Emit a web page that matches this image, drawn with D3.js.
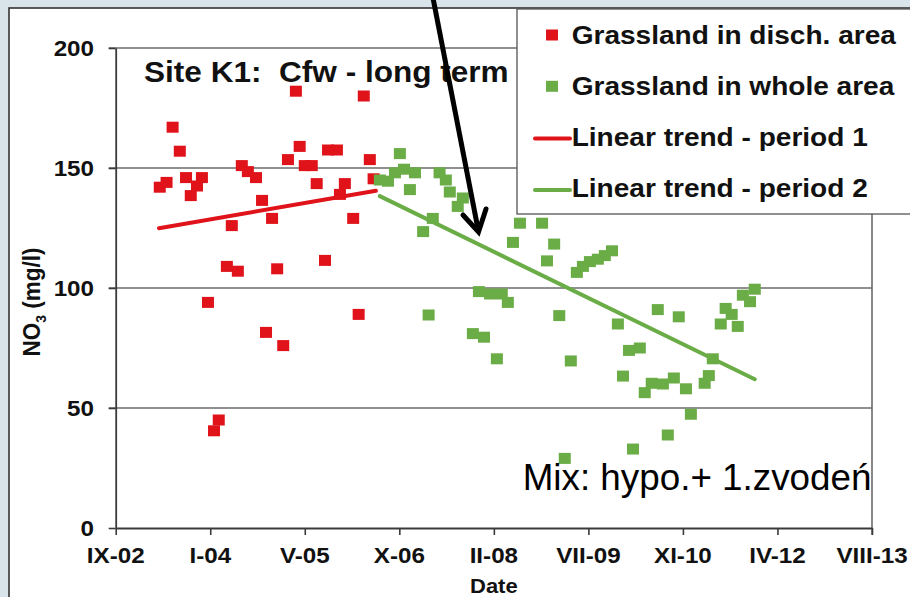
<!DOCTYPE html>
<html>
<head>
<meta charset="utf-8">
<script src="https://cdn.jsdelivr.net/npm/d3@7.9.0/dist/d3.min.js"></script>
<style>
  body { margin: 0; background: #fff; }
  text { font-family: "Liberation Sans", Arial, sans-serif; }
</style>
</head>
<body>
<div id="vis"></div>
<script>
// Data
const dischDates = [
  "2003-04-22", "2003-05-28", "2003-06-29", "2003-08-06", "2003-09-08", "2003-10-03",
  "2003-11-05", "2003-12-01", "2004-01-02", "2004-02-03", "2004-02-28", "2004-04-11",
  "2004-05-07", "2004-06-08", "2004-06-29", "2004-07-31", "2004-09-12", "2004-10-14",
  "2004-11-04", "2004-12-06", "2005-01-02", "2005-02-03", "2005-02-28", "2005-04-11",
  "2005-05-01", "2005-05-28", "2005-07-04", "2005-07-30", "2005-09-12", "2005-09-28",
  "2005-11-14", "2005-11-30", "2005-12-26", "2006-02-08", "2006-03-09", "2006-04-05",
  "2006-05-07", "2006-05-27"
];
const dischNO3 = [
  142, 144, 167, 157, 146, 138.5,
  142.5, 146, 94, 40.5, 45, 109,
  126, 107, 151, 148.5, 146, 136.5,
  81.5, 129, 108, 76, 153.5, 182,
  159, 151, 151, 143.5, 111.5, 157.5,
  157.5, 139, 143.5, 129, 89, 180,
  153.5, 145.5
];

const wholeDates = [
  "2006-06-29", "2006-08-11", "2006-09-17", "2006-10-13", "2006-11-04", "2006-12-05",
  "2007-01-01", "2007-02-13", "2007-03-14", "2007-04-05", "2007-05-11", "2007-06-13",
  "2007-07-04", "2007-08-15", "2007-09-11", "2007-11-03", "2007-12-05", "2008-01-01",
  "2008-02-02", "2008-03-09", "2008-04-04", "2008-05-06", "2008-06-02", "2008-07-09",
  "2008-11-03", "2008-11-29", "2009-01-06", "2009-02-02", "2009-03-03", "2009-04-04",
  "2009-05-06", "2009-06-07", "2009-07-14", "2009-08-25", "2009-10-01", "2009-11-08",
  "2009-12-09", "2010-01-05", "2010-02-06", "2010-02-27", "2010-04-04", "2010-04-30",
  "2010-06-06", "2010-07-08", "2010-08-04", "2010-08-30", "2010-10-01", "2010-10-27",
  "2010-12-04", "2010-12-30", "2011-03-13", "2011-04-04", "2011-04-25", "2011-06-06",
  "2011-07-02", "2011-08-03", "2011-09-04", "2011-10-01", "2011-11-08", "2011-12-03"
];
const wholeNO3 = [
  145, 144.5, 148, 156, 149.5, 141,
  148, 123.5, 88.75, 129, 148, 145,
  140, 134, 137.5, 81, 98.5, 79.5,
  97.5, 70.5, 97.5, 94, 119, 127,
  127, 111.3, 118.3, 88.5, 29, 69.6,
  106.5, 109, 111, 112, 113.5, 115.5,
  85, 63.3, 74, 32.9, 75, 56.4,
  60.3, 91, 60, 38.75, 62.5, 88,
  58, 47.4, 60.3, 63.5, 70.5, 85,
  91.5, 89, 84, 97, 94.3, 99.5
];

const trend1Dates = ["2003-04-18", "2006-06-08"];
const trend1NO3 = [124.9, 140.5];
const trend2Dates = ["2006-06-29", "2011-12-03"];
const trend2NO3 = [138.3, 62];

const yTicks = [0, 50, 100, 150, 200];
const xTickDays = [0, 500, 1000, 1500, 2000, 2500, 3000, 3500, 4000];
const romanMonths = ["I", "II", "III", "IV", "V", "VI", "VII", "VIII", "IX", "X", "XI", "XII"];

const legendLabels = [
  "Grassland in disch. area",
  "Grassland in whole area",
  "Linear trend - period 1",
  "Linear trend - period 2"
];

const red = "#e0121a";
const green = "#6aac46";
const ink = "#111";

const width = 910;
const height = 597;
const plot = { left: 115.7, right: 872, top: 48, bottom: 528 };

const parse = d3.utcParse("%Y-%m-%d");
const startDate = new Date(Date.UTC(2002, 8, 1));

const xScale = d3
  .scaleUtc()
  .domain([startDate, d3.utcDay.offset(startDate, 4000)])
  .range([plot.left, plot.right]);
const yScale = d3
  .scaleLinear()
  .domain([0, 200])
  .range([plot.bottom, plot.top]);

const svg = d3
  .select("#vis")
  .append("svg")
  .attr("width", width)
  .attr("height", height);

// text is horizontally stretched in the original
function stretchText(parent, x, y, str, size, anchor, bold = true) {
  return parent
    .append("text")
    .attr("transform", `translate(${x},${y}) scale(1.1,1)`)
    .attr("text-anchor", anchor)
    .attr("font-size", size)
    .attr("font-weight", bold ? "bold" : "normal")
    .attr("fill", ink)
    .style("white-space", "pre")
    .text(str);
}

// slide background + chart frame
svg.append("rect").attr("width", width).attr("height", height).attr("fill", "#d9e3ea");
svg
  .append("rect")
  .attr("x", 9)
  .attr("y", 8)
  .attr("width", width)
  .attr("height", height)
  .attr("fill", "#fff")
  .attr("stroke", "#333")
  .attr("stroke-width", 1.6);

// gridlines
svg
  .append("g")
  .selectAll("line")
  .data(yTicks.slice(1))
  .enter()
  .append("line")
  .attr("x1", plot.left - 7)
  .attr("x2", plot.right)
  .attr("y1", (d) => yScale(d))
  .attr("y2", (d) => yScale(d))
  .attr("stroke", "#6b6b6b")
  .attr("stroke-width", 1.6);

// right border of plot
svg
  .append("line")
  .attr("x1", plot.right)
  .attr("x2", plot.right)
  .attr("y1", plot.top)
  .attr("y2", plot.bottom + 7)
  .attr("stroke", "#6b6b6b")
  .attr("stroke-width", 1.6);

// axes
const xAxis = svg
  .append("g")
  .attr("transform", `translate(0,${plot.bottom})`)
  .call(
    d3
      .axisBottom(xScale)
      .tickValues(xTickDays.map((d) => d3.utcDay.offset(startDate, d)))
      .tickSize(7)
      .tickSizeOuter(0)
      .tickFormat("")
  );
const yAxis = svg
  .append("g")
  .attr("transform", `translate(${plot.left},0)`)
  .call(d3.axisLeft(yScale).tickValues(yTicks).tickSize(7).tickSizeOuter(0).tickFormat(""));

[xAxis, yAxis].forEach((a) => {
  a.select(".domain").attr("stroke", "#3a3a3a").attr("stroke-width", 1.8);
  a.selectAll(".tick line").attr("stroke", "#3a3a3a").attr("stroke-width", 1.6);
});

// tick labels
yTicks.forEach((t) => stretchText(svg, 94, yScale(t) + 7.8, String(t), 22, "end"));
xTickDays.forEach((d) => {
  const dt = d3.utcDay.offset(startDate, d);
  const label = `${romanMonths[dt.getUTCMonth()]}-${String(dt.getUTCFullYear()).slice(2)}`;
  stretchText(svg, xScale(dt), 562.5, label, 22, "middle");
});

// axis titles
stretchText(svg, (plot.left + plot.right) / 2, 593, "Date", 20, "middle");
const yTitle = svg
  .append("text")
  .attr("transform", "translate(40,302) rotate(-90) scale(1,1.1)")
  .attr("text-anchor", "middle")
  .attr("font-size", 22.5)
  .attr("font-weight", "bold")
  .attr("fill", ink);
yTitle.append("tspan").text("NO");
yTitle.append("tspan").attr("font-size", 14).attr("dy", 5).text("3");
yTitle.append("tspan").attr("dy", -5).text(" (mg/l)");

// points
const sq = { w: 12, h: 11 };
const dischData = dischDates.map((d, i) => ({ date: parse(d), v: dischNO3[i] }));
const wholeData = wholeDates.map((d, i) => ({ date: parse(d), v: wholeNO3[i] }));

svg
  .append("g")
  .selectAll("rect")
  .data(dischData)
  .enter()
  .append("rect")
  .attr("x", (d) => xScale(d.date) - sq.w / 2)
  .attr("y", (d) => yScale(d.v) - sq.h / 2)
  .attr("width", sq.w)
  .attr("height", sq.h)
  .attr("fill", red);

svg
  .append("g")
  .selectAll("rect")
  .data(wholeData)
  .enter()
  .append("rect")
  .attr("x", (d) => xScale(d.date) - sq.w / 2)
  .attr("y", (d) => yScale(d.v) - sq.h / 2)
  .attr("width", sq.w)
  .attr("height", sq.h)
  .attr("fill", green);

// trend lines
const line = d3
  .line()
  .x((d) => xScale(d.date))
  .y((d) => yScale(d.v));

svg
  .append("path")
  .attr("d", line(trend1Dates.map((d, i) => ({ date: parse(d), v: trend1NO3[i] }))))
  .attr("fill", "none")
  .attr("stroke", red)
  .attr("stroke-width", 4)
  .attr("stroke-linecap", "round");
svg
  .append("path")
  .attr("d", line(trend2Dates.map((d, i) => ({ date: parse(d), v: trend2NO3[i] }))))
  .attr("fill", "none")
  .attr("stroke", green)
  .attr("stroke-width", 4)
  .attr("stroke-linecap", "round");

// title
stretchText(svg, 144, 81.7, "Site K1:  Cfw - long term", 28.7, "start");

// legend
const legend = svg.append("g");
legend
  .append("rect")
  .attr("x", 517)
  .attr("y", 9)
  .attr("width", 420)
  .attr("height", 205)
  .attr("fill", "#fff")
  .attr("stroke", "#555")
  .attr("stroke-width", 1.3);

const legendKinds = [
  { type: "sq", color: red },
  { type: "sq", color: green },
  { type: "line", color: red },
  { type: "line", color: green }
];
legendLabels.forEach((label, i) => {
  const cy = 35 + i * 51.3;
  const k = legendKinds[i];
  if (k.type === "sq") {
    legend
      .append("rect")
      .attr("x", 552 - sq.w / 2)
      .attr("y", cy - sq.h / 2)
      .attr("width", sq.w)
      .attr("height", sq.h)
      .attr("fill", k.color);
  } else {
    legend
      .append("line")
      .attr("x1", 535)
      .attr("x2", 570)
      .attr("y1", cy + 1)
      .attr("y2", cy + 1)
      .attr("stroke", k.color)
      .attr("stroke-width", 4)
      .attr("stroke-linecap", "round");
  }
  stretchText(legend, 571.7, cy + 8.5, label, 25.5, "start");
});

// annotation
svg
  .append("text")
  .attr("x", 522.7)
  .attr("y", 490)
  .attr("font-size", 36.8)
  .attr("fill", "#000")
  .text("Mix: hypo.+ 1.zvodeń");

// arrow
const arrow = svg.append("g").attr("stroke", "#000").attr("stroke-width", 5).attr("fill", "none");
arrow.append("line").attr("x1", 433).attr("y1", -2).attr("x2", 478).attr("y2", 229);
arrow
  .append("path")
  .attr("d", "M463,215 L478.5,232 L486,209")
  .attr("stroke-linejoin", "miter")
  .attr("stroke-linecap", "round");
</script>
</body>
</html>
